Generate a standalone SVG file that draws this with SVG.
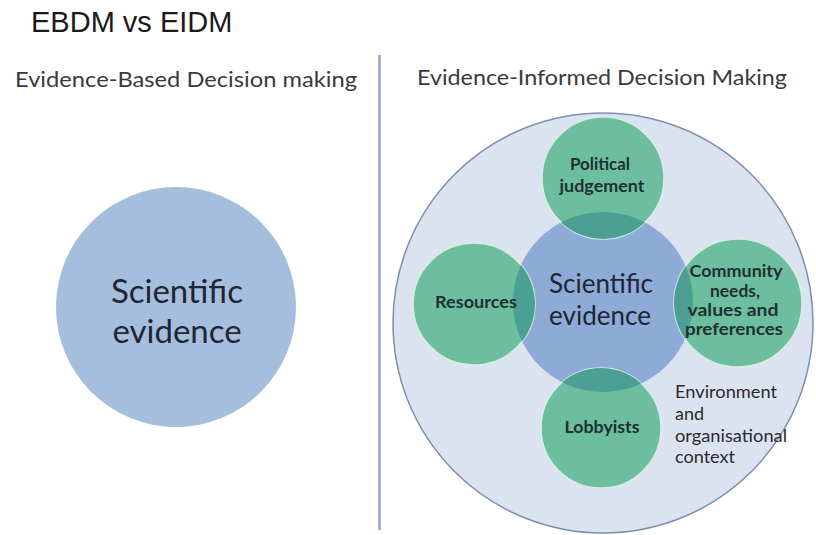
<svg xmlns="http://www.w3.org/2000/svg" width="816" height="535" viewBox="0 0 816 535">
<defs>
<style>
.title{font-family:"Liberation Sans",Arial,sans-serif;font-size:29px;fill:#1a1a1a}
.head{font-family:Lato,"Open Sans",sans-serif;font-size:20.5px;fill:#3a3a3a}
.big{font-family:Lato,"Open Sans",sans-serif;font-size:33px;fill:#1e2633;text-anchor:middle}
.mid{font-family:Lato,"Open Sans",sans-serif;font-size:26px;fill:#1e2633;text-anchor:middle}
.lbl{font-family:Lato,"Open Sans",sans-serif;font-size:17px;font-weight:bold;fill:#203030;text-anchor:middle}
.env{font-family:Lato,"Open Sans",sans-serif;font-size:17px;fill:#2a2a2a}
.green{fill:#6dbe9f;stroke:#d6eee4;stroke-width:1.5}
.overlap{fill:#4ba093}
</style>
<clipPath id="centerClip"><circle cx="603" cy="302" r="90"/></clipPath>
</defs>
<rect width="816" height="535" fill="#ffffff"/>
<text class="title" x="31" y="32">EBDM vs EIDM</text>
<text class="head" x="15" y="87" textLength="342" lengthAdjust="spacingAndGlyphs">Evidence-Based Decision making</text>
<text class="head" x="417" y="85" textLength="370" lengthAdjust="spacingAndGlyphs">Evidence-Informed Decision Making</text>
<g id="connectors">
<line x1="379.5" y1="55" x2="379.5" y2="530" stroke="#8ea6cf" stroke-width="2.5"/>
</g>
<g id="ebdm-evidence">
<circle cx="176" cy="307" r="120" fill="#a6bede"/>
<text class="big" x="177" y="303">Scientific</text>
<text class="big" x="177" y="343">evidence</text>
</g>
<g id="environment">
<circle cx="603" cy="323" r="210" fill="#dce3f0" stroke="#7d8fae" stroke-width="1.5"/>
<text class="env" x="675" y="398" textLength="102" lengthAdjust="spacingAndGlyphs">Environment</text>
<text class="env" x="675" y="420" textLength="29" lengthAdjust="spacingAndGlyphs">and</text>
<text class="env" x="675" y="442" textLength="112" lengthAdjust="spacingAndGlyphs">organisational</text>
<text class="env" x="675" y="463" textLength="60" lengthAdjust="spacingAndGlyphs">context</text>
</g>
<g id="eidm-evidence">
<circle cx="603" cy="302" r="90" fill="#8eaad6"/>
</g>
<g id="political">
<circle class="green" cx="603" cy="178" r="61"/>
<circle class="overlap" cx="603" cy="178" r="61" clip-path="url(#centerClip)"/>
<text class="lbl" x="600" y="170" textLength="60" lengthAdjust="spacingAndGlyphs">Political</text>
<text class="lbl" x="602" y="192" textLength="85" lengthAdjust="spacingAndGlyphs">judgement</text>
</g>
<g id="resources">
<circle class="green" cx="474" cy="304" r="61"/>
<circle class="overlap" cx="474" cy="304" r="61" clip-path="url(#centerClip)"/>
<text class="lbl" x="476" y="308" textLength="82" lengthAdjust="spacingAndGlyphs">Resources</text>
</g>
<g id="community">
<circle class="green" cx="738" cy="303" r="64"/>
<circle class="overlap" cx="738" cy="303" r="64" clip-path="url(#centerClip)"/>
<text class="lbl" x="736" y="277" textLength="93" lengthAdjust="spacingAndGlyphs">Community</text>
<text class="lbl" x="735" y="297" textLength="50" lengthAdjust="spacingAndGlyphs">needs,</text>
<text class="lbl" x="733" y="316" textLength="91" lengthAdjust="spacingAndGlyphs">values and</text>
<text class="lbl" x="734" y="335" textLength="98" lengthAdjust="spacingAndGlyphs">preferences</text>
</g>
<g id="lobbyists">
<circle class="green" cx="601" cy="428" r="60"/>
<circle class="overlap" cx="601" cy="428" r="60" clip-path="url(#centerClip)"/>
<text class="lbl" x="602" y="433" textLength="75" lengthAdjust="spacingAndGlyphs">Lobbyists</text>
</g>
<g id="eidm-label">
<text class="mid" x="601" y="293">Scientific</text>
<text class="mid" x="600" y="325">evidence</text>
</g>
</svg>
